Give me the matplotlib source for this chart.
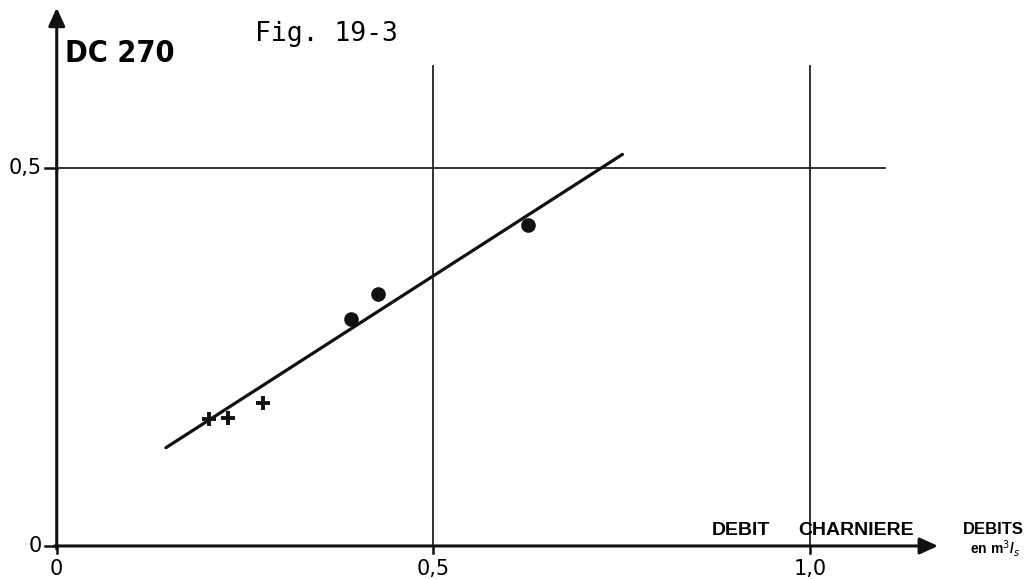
import matplotlib
matplotlib.use("Agg")
import matplotlib.pyplot as plt

# data
cross_x = [0.202, 0.227, 0.274]
cross_y = [0.168, 0.169, 0.189]
dot_x = [0.391, 0.426, 0.625]
dot_y = [0.300, 0.333, 0.425]
fit_x = [0.145, 0.751]
fit_y = [0.130, 0.518]

x_ticks = [0, 0.5, 1.0]
x_labels = ["0", "0,5", "1,0"]
y_ticks = [0, 0.5]
y_labels = ["0", "0,5"]

fig = plt.figure(figsize=(10.32, 5.79), dpi=100)
ax = fig.add_axes([0, 0, 1, 1])
ax.set_xlim(-0.0753, 1.2947)
ax.set_ylim(-0.0437, 0.7222)
ax.axis("off")

# grid lines
ax.plot([0, 1.1], [0.5, 0.5], color="#222222", lw=1.3)
ax.plot([0.5, 0.5], [0, 0.635], color="#222222", lw=1.3)
ax.plot([1.0, 1.0], [0, 0.635], color="#222222", lw=1.3)

# axes with arrows
ax.annotate("", xy=(0, 0.712), xytext=(0, -0.004),
            arrowprops=dict(arrowstyle="-|>,head_length=0.55,head_width=0.25",
                            mutation_scale=20, lw=2.2, color="#111111",
                            shrinkA=0, shrinkB=0))
ax.annotate("", xy=(1.170, 0), xytext=(-0.003, 0),
            arrowprops=dict(arrowstyle="-|>,head_length=0.55,head_width=0.25",
                            mutation_scale=20, lw=2.2, color="#111111",
                            shrinkA=0, shrinkB=0))

# ticks
for t in y_ticks:
    ax.plot([-0.016, 0], [t, t], color="#111111", lw=1.8)
for t in x_ticks:
    ax.plot([t, t], [-0.009, 0], color="#111111", lw=1.8)

for t, l in zip(x_ticks, x_labels):
    ax.text(t, -0.030, l, ha="center", va="center", fontsize=15)
ax.text(-0.042, 0.5, y_labels[1], ha="center", va="center", fontsize=15)
ax.text(-0.029, 0, y_labels[0], ha="center", va="center", fontsize=15)

# fit line and points
ax.plot(fit_x, fit_y, color="#111111", lw=2.3, solid_capstyle="round")
ax.plot(cross_x, cross_y, "+", color="#111111", ms=9.5, mew=2.8)
ax.plot(dot_x, dot_y, "o", color="#111111", ms=9.5)

# titles
ax.text(0.011, 0.640, "DC 270", ha="left", va="baseline", fontsize=22,
        fontweight="bold", fontstretch="condensed", family=["DejaVu Sans"])
ax.text(0.263, 0.668, "Fig. 19-3", ha="left", va="baseline", fontsize=19,
        family=["DejaVu Sans Mono"])

ax.text(0.870, 0.021, "DEBIT", ha="left", va="center", fontsize=14,
        fontweight="bold", family=["Liberation Sans", "DejaVu Sans"])
ax.text(0.984, 0.021, "CHARNIERE", ha="left", va="center", fontsize=14,
        fontweight="bold", family=["Liberation Sans", "DejaVu Sans"])
ax.text(1.244, 0.022, "DEBITS", ha="center", va="center", fontsize=12,
        fontweight="bold", family=["Liberation Sans", "DejaVu Sans"])
ax.text(1.245, -0.003, "en m$^{3}$/$_{s}$", ha="center", va="center", fontsize=10,
        fontweight="bold", family=["Liberation Sans", "DejaVu Sans"])

fig.savefig("out.png", dpi=100)
